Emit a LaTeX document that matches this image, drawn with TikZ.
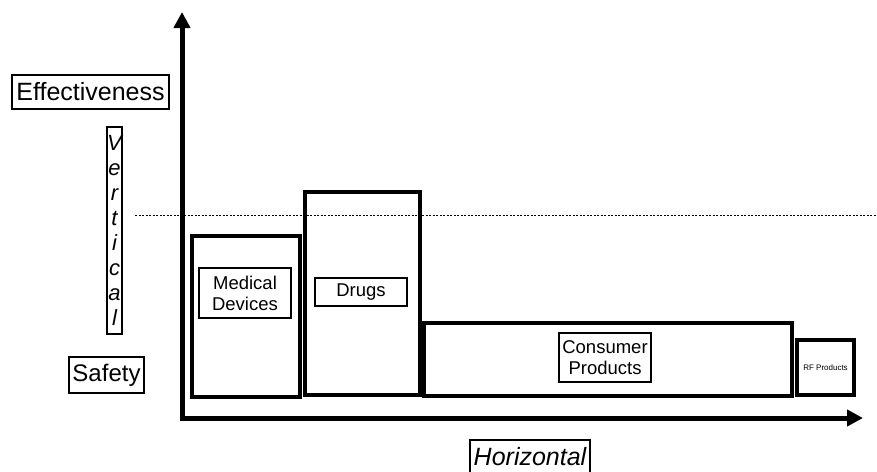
\documentclass[tikz,border=0pt]{standalone}
\usepackage{fontspec}
\setmainfont{Liberation Sans}
\usetikzlibrary{arrows.meta, positioning}

\begin{document}
\begin{tikzpicture}[x=1pt, y=-1pt,
    market/.style = {draw, line width=3.2pt, inner sep=0pt},
    tag/.style = {draw, line width=1.4pt, inner sep=0pt, align=center, font=\fontsize{18.5}{21}\selectfont},
    axistag/.style = {draw, line width=1.4pt, inner sep=0pt, font=\fontsize{25}{28}\selectfont},
    axis/.style = {line width=5pt, {Triangle[length=16pt, width=16pt]}-{Triangle[length=16pt, width=16pt]}}]

    \clip (0,0) rectangle (877,471);

    % market boxes
    \node (med)  [market, minimum width=108, minimum height=161] at (246,316.5) {};
    \node (drug) [market, minimum width=115, minimum height=203] at (362.5,293.5) {};
    \node (cons) [market, minimum width=368, minimum height=73] at (608,359.5) {};
    \node (rf)   [market, minimum width=57, minimum height=55] at (825.5,367.5) {\fontsize{8}{9}\selectfont RF Products};

    % labels inside
    \node (medtag)  [tag, minimum width=92, minimum height=50] at (245,293) {Medical\\Devices};
    \node (drugtag) [tag, minimum width=92, minimum height=28] at (361,292) {Drugs};
    \node (constag) [tag, minimum width=92, minimum height=49] at (605,357.5) {Consumer\\Products};

    % axis labels
    \node (eff)  [axistag, minimum width=157, minimum height=34] at (90.5,92) {Effectiveness};
    \node (vert) [axistag, minimum width=15, minimum height=207, align=center,
                  font=\itshape\fontsize{22}{25}\selectfont] at (114.5,230.5) {V\\e\\r\\t\\i\\c\\a\\l};
    \node (safe) [axistag, minimum width=75, minimum height=36, font=\fontsize{24}{27}\selectfont] at (106.5,375) {Safety};
    \node (horz) [axistag, minimum width=120, minimum height=38, text depth=6pt,
                  font=\itshape\fontsize{25}{28}\selectfont] at (530,459) {Horizontal};

    % axes and threshold
    \coordinate (ytip) at (182,12);
    \coordinate (xtip) at (863,418);
    \draw [axis] (ytip) |- (xtip);

    \coordinate (limleft) at (135,215);
    \coordinate (limright) at (877,215);
    \draw [line width=0.8pt, dash pattern=on 2pt off 1.5pt] (limleft) -- (limright);

\end{tikzpicture}
\end{document}
